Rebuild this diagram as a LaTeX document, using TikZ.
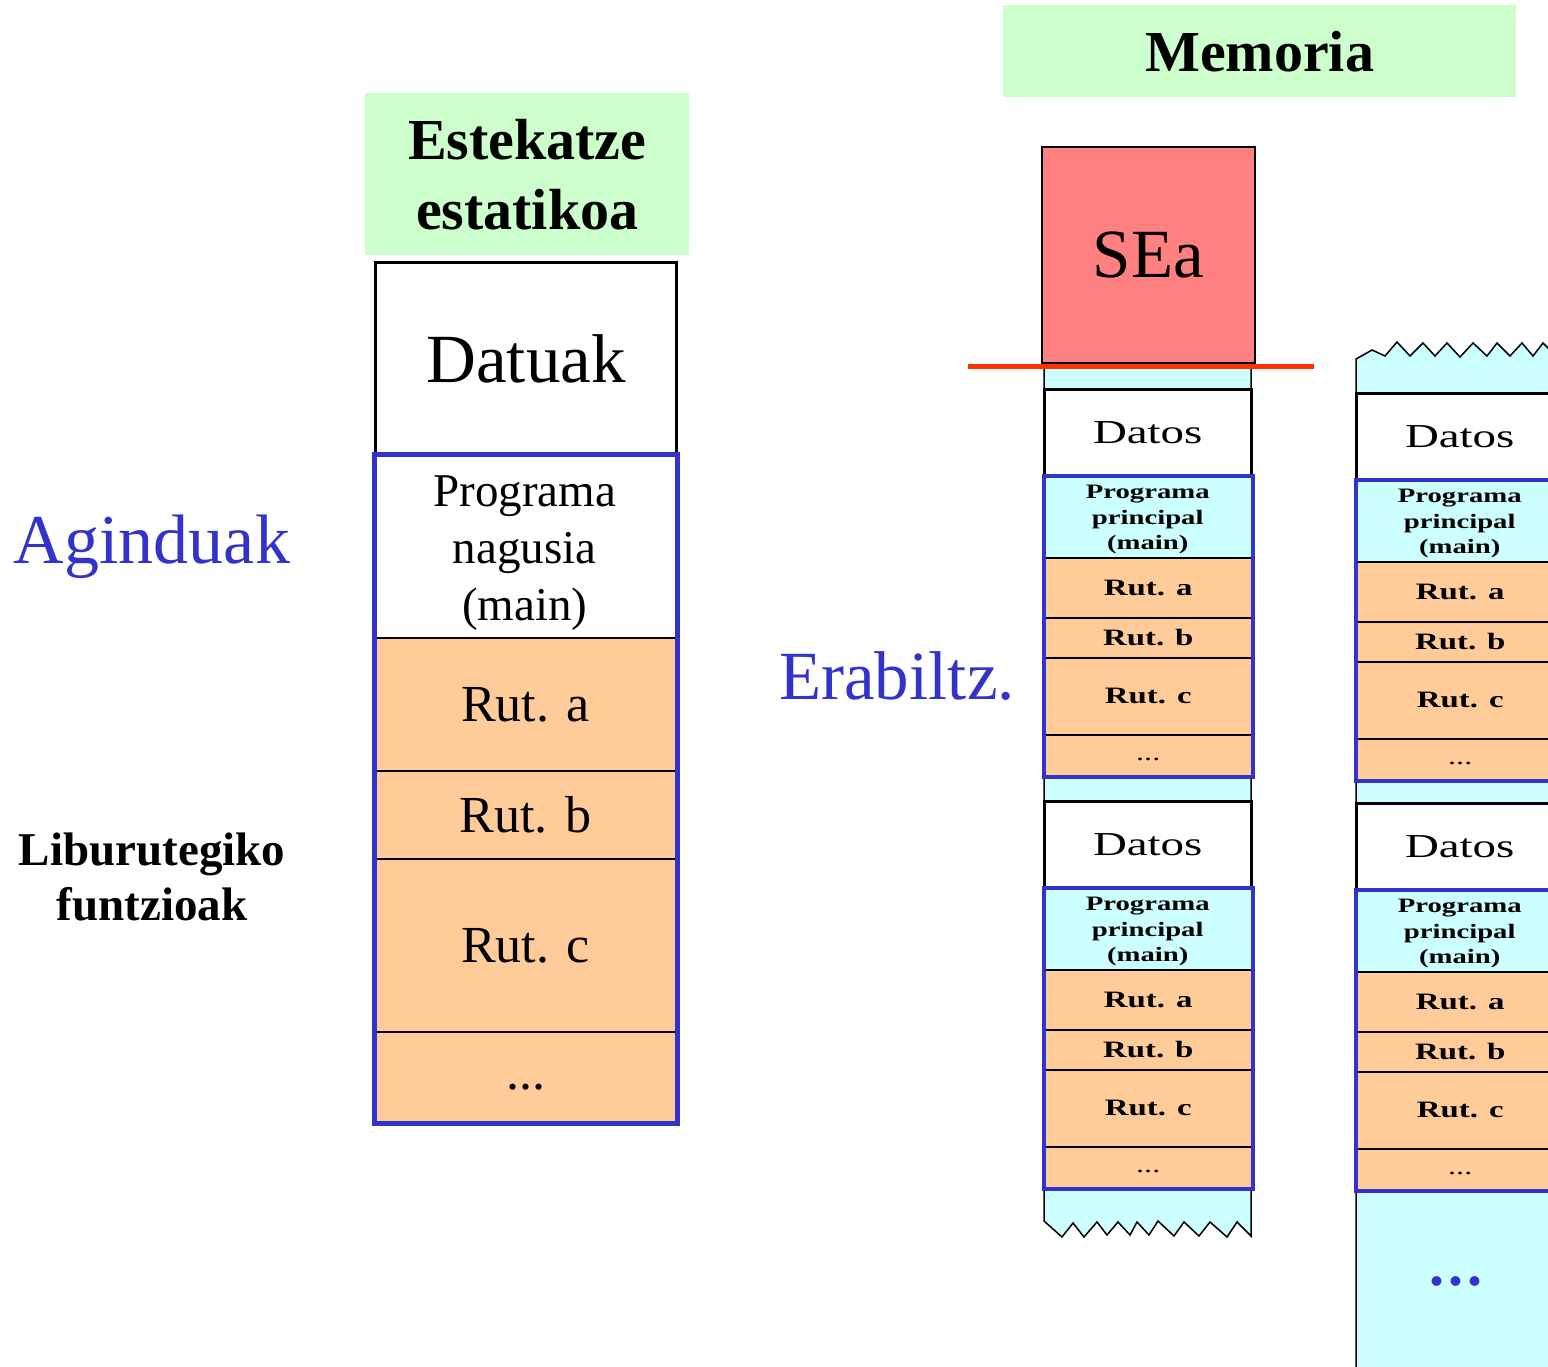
\documentclass[tikz,border=0pt]{standalone}
\usepackage{fontspec}
\setmainfont{Liberation Serif}
\newfontfamily\widefont[FakeStretch=1.4]{Liberation Serif}

\definecolor{greenbg}{HTML}{CCFFCC}
\definecolor{peach}{HTML}{FFCC99}
\definecolor{cyanbg}{HTML}{CCFFFF}
\definecolor{osred}{HTML}{FF8080}
\definecolor{cutline}{HTML}{FF3300}
\definecolor{instblue}{HTML}{3333CC}

% font shortcuts for the small memory blocks
\newcommand\dfont{\widefont\fontsize{33.5}{40}\selectfont}
\newcommand\pfont{\widefont\bfseries\fontsize{20.5}{25.5}\selectfont}
\newcommand\rfont{\widefont\bfseries\fontsize{23.5}{28}\selectfont}
\newcommand\sdfont{\widefont\fontsize{23}{28}\selectfont}

\tikzset{
  cell/.style={rectangle, anchor=north west, inner sep=0pt},
  mcell/.style={cell, minimum width=207},
  lcell/.style={cell, minimum width=301},
  thinrule/.style={draw=black, line width=1.5},
  blueframe/.style={draw=instblue, line width=4},
  titlebox/.style={cell, fill=greenbg, align=center},
  sidelabel/.style={align=center},
}

% one process image in memory: name prefix, left x, top y
\newcommand\membloc[3]{%
  \begin{scope}[shift={(#2,#3)}]
    \node[mcell, fill=white, minimum height=87, font=\dfont] (#1-dat) at (0,0) {Datos};
    \node[mcell, fill=cyanbg, minimum height=81, font=\pfont, align=center] (#1-main) at (0,87) {};
    \node[font=\pfont, align=center] (#1-maintext) at ([yshift=-3pt]#1-main.center) {Programa\\principal\\(main)};
    \node[mcell, fill=peach, thinrule, minimum height=60, font=\rfont] (#1-a) at (0,168) {Rut. a};
    \node[mcell, fill=peach, thinrule, minimum height=40, font=\rfont] (#1-b) at (0,228) {Rut. b};
    \node[mcell, fill=peach, thinrule, minimum height=77, font=\rfont] (#1-c) at (0,268) {Rut. c};
    \node[mcell, fill=peach, thinrule, minimum height=41, font=\sdfont] (#1-dots) at (0,345) {\strut...};
    \draw[black, line width=3] (#1-dat.south west) -- (#1-dat.north west) -- (#1-dat.north east) -- (#1-dat.south east);
    \draw[blueframe] (#1-main.north west) rectangle (#1-dots.south east);
  \end{scope}}

\begin{document}
\begin{tikzpicture}[x=1pt, y=-1pt]
\useasboundingbox (0,0) rectangle (1548,1367);
\begin{scope}
\clip (0,0) rectangle (1548,1367);

% ---------- statically linked executable ----------
\node[titlebox, minimum width=324, minimum height=162,
      font=\fontsize{58}{70}\selectfont\bfseries] (link) at (365,93) {Estekatze\\estatikoa};

\node[lcell, fill=white, draw=black, line width=3, minimum height=193,
      font=\fontsize{69}{80}\selectfont] (datuak) at (374,261) {Datuak};
\node[lcell, fill=white, minimum height=183] (nagusia) at (374,454) {};
\node[align=center, font=\fontsize{47}{57}\selectfont] (nagusiatext) at ([yshift=-7pt]nagusia.center)
  {Programa\\nagusia\\(main)};
\node[lcell, fill=peach, draw=black, line width=2, minimum height=133,
      font=\fontsize{52}{62}\selectfont] (ruta) at (374,637) {Rut. a};
\node[lcell, fill=peach, draw=black, line width=2, minimum height=88,
      font=\fontsize{52}{62}\selectfont] (rutb) at (374,770) {Rut. b};
\node[lcell, fill=peach, draw=black, line width=2, minimum height=173,
      font=\fontsize{52}{62}\selectfont] (rutc) at (374,858) {Rut. c};
\node[lcell, fill=peach, draw=black, line width=2, minimum height=90,
      font=\fontsize{52}{62}\selectfont] (rutd) at (374,1031) {\strut...};
\draw[blueframe, line width=5] (nagusia.north west) rectangle (rutd.south east);

\node[sidelabel, text=instblue, font=\fontsize{70}{80}\selectfont] (agind) at (152,547) {Aginduak};
\node[sidelabel, font=\fontsize{47}{55}\selectfont\bfseries] (libur) at (152,877) {Liburutegiko\\funtzioak};

% ---------- memory ----------
\node[titlebox, minimum width=513, minimum height=92,
      font=\fontsize{58}{70}\selectfont\bfseries] (memoria) at (1003,5) {Memoria};

% user area of the middle column, torn at the bottom
\filldraw[fill=cyanbg, draw=black, line width=1.5]
  (1044,362) -- (1044,1221) -- (1062,1237) -- (1073,1223) -- (1084,1237) -- (1097,1222)
  -- (1107,1235) -- (1118,1222) -- (1130,1235) -- (1137,1222) -- (1149,1235) -- (1158,1221)
  -- (1174,1236) -- (1184,1222) -- (1199,1236) -- (1210,1222) -- (1227,1237) -- (1237,1222)
  -- (1251,1236) -- (1251,362);

% right column, torn at the top
\filldraw[fill=cyanbg, draw=black, line width=1.5]
  (1356,1400) -- (1356,359) -- (1372,350) -- (1385,356) -- (1397,342) -- (1410,356)
  -- (1423,343) -- (1435,356) -- (1447,343) -- (1460,357) -- (1473,343) -- (1487,356)
  -- (1497,343) -- (1510,356) -- (1522,343) -- (1533,356) -- (1543,343) -- (1556,356)
  -- (1563,348) -- (1563,1400);

% operating system
\node[cell, fill=osred, draw=black, line width=2, minimum width=213, minimum height=216,
      font=\fontsize{69}{80}\selectfont] (sea) at (1041,146) {SEa};

\coordinate (cutL) at (968,366);
\coordinate (cutR) at (1314,366);
\draw[cutline, line width=5] (cutL) -- (cutR);

\node[sidelabel, text=instblue, font=\fontsize{69}{80}\selectfont] (erab) at (897,676) {Erabiltz.};

\membloc{ma}{1044}{389}
\membloc{mb}{1044}{801}
\membloc{ra}{1356}{393}
\membloc{rb}{1356}{803}

\node[text=instblue, font=\fontsize{60}{70}\selectfont\bfseries] (more) at (1456,1281)
  {.\hspace{4pt}.\hspace{4pt}.};
\end{scope}
\end{tikzpicture}
\end{document}
